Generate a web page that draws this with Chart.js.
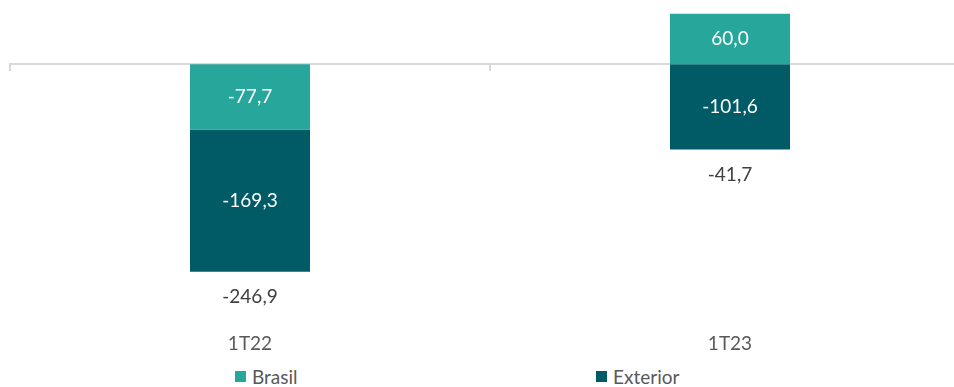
<!DOCTYPE html>
<html>
<head>
<meta charset="utf-8">
<script src="https://cdn.jsdelivr.net/npm/chart.js@4"></script>
<style>
  html, body { margin: 0; padding: 0; background: #fff; overflow: hidden; }
  #wrap { position: relative; width: 970px; height: 355px; }
  #legend { position: absolute; top: 365px; left: 0; width: 954px; height: 24px;
            font-family: Lato, "Open Sans", sans-serif; font-size: 19px; color: #595959; }
  .item { position: absolute; top: 0; display: flex; align-items: center; }
  .item-0 { left: 235px; }
  .item-1 { left: 596px; }
  .box { width: 11px; height: 11px; margin-right: 6px; }
</style>
</head>
<body>
<div id="wrap"><canvas id="chart"></canvas></div>
<div id="legend"></div>
<script>
const periodos = ['1T22', '1T23']
const brasil = [-77.7, 60.0]
const exterior = [-169.3, -101.6]
const totais = [-246.9, -41.7]

const corBrasil = '#27a69b'
const corExterior = '#005b66'

const fmt = v => v.toFixed(1).replace('.', ',')

// valores dentro das barras + total abaixo de cada coluna
const rotulos = {
  id: 'rotulos',
  afterDatasetsDraw(chart) {
    const ctx = chart.ctx
    ctx.save()
    ctx.font = '19px Lato'
    ctx.textAlign = 'center'
    ctx.textBaseline = 'middle'
    chart.data.datasets.forEach((ds, i) => {
      chart.getDatasetMeta(i).data.forEach((bar, j) => {
        const p = bar.getProps(['x', 'y', 'base'], true)
        ctx.fillStyle = '#ffffff'
        ctx.fillText(fmt(ds.data[j]), p.x, (p.y + p.base) / 2)
      })
    })
    const y = chart.scales.y
    totais.forEach((t, j) => {
      let neg = 0
      chart.data.datasets.forEach(ds => { if (ds.data[j] < 0) neg += ds.data[j] })
      const x = chart.scales.x.getPixelForValue(j)
      ctx.fillStyle = '#404040'
      ctx.fillText(fmt(t), x, y.getPixelForValue(neg) + 25)
    })
    ctx.restore()
  }
}

const chart = new Chart(document.querySelector('#chart'), {
  type: 'bar',
  data: {
    labels: periodos,
    datasets: [
      { label: 'Brasil', data: brasil, backgroundColor: corBrasil },
      { label: 'Exterior', data: exterior, backgroundColor: corExterior }
    ]
  },
  options: {
    responsive: true,
    maintainAspectRatio: false,
    animation: false,
    layout: { padding: { left: 10, top: 0, right: 0, bottom: 0 } },
    datasets: { bar: { barPercentage: 0.25, categoryPercentage: 1 } },
    plugins: { legend: { display: false }, tooltip: { enabled: false } },
    scales: {
      x: {
        stacked: true,
        grid: { display: false },
        border: { display: false },
        ticks: { color: '#595959', font: { family: 'Lato', size: 19 }, padding: 0 }
      },
      eixo: {
        axis: 'x',
        type: 'category',
        position: { y: 0 },
        offset: true,
        grid: { offset: true, drawOnChartArea: false, tickLength: 6, color: '#d9d9d9', lineWidth: 2 },
        border: { color: '#d9d9d9', width: 2 },
        ticks: { display: false }
      },
      y: {
        stacked: true,
        display: false,
        min: -309.6,
        max: 76.5
      }
    }
  },
  plugins: [rotulos]
})

// legenda
const legenda = document.querySelector('#legend')
chart.data.datasets.forEach((ds, i) => {
  const item = document.createElement('div')
  item.className = 'item item-' + i
  item.innerHTML = '<span class="box" style="background:' + ds.backgroundColor + '"></span>' + ds.label
  legenda.appendChild(item)
})
</script>
</body>
</html>
